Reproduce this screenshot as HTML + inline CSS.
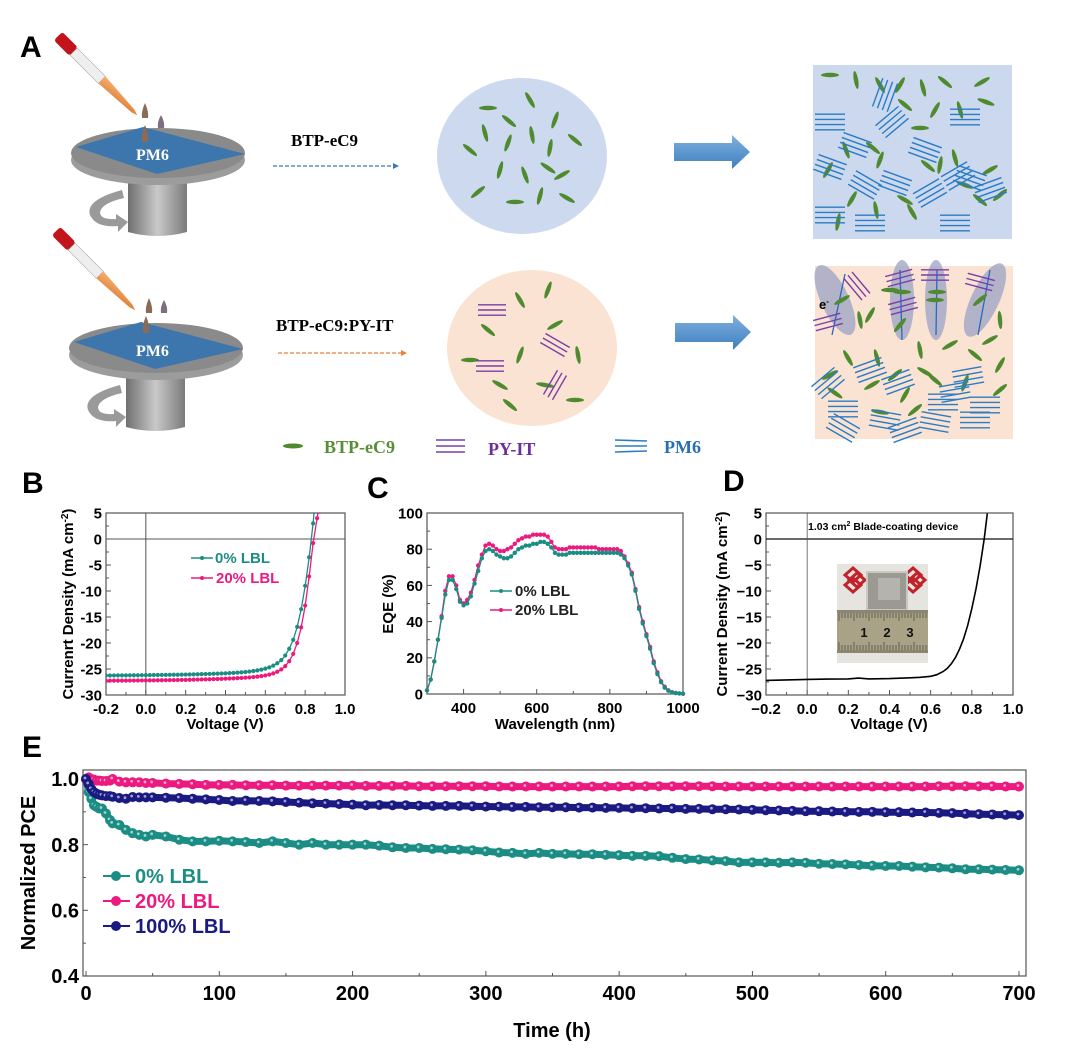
<!DOCTYPE html>
<html><head><meta charset="utf-8"><style>
html,body{margin:0;padding:0;background:#fff;}
svg{display:block;font-family:"Liberation Sans",Arial,sans-serif;}
.serif{font-family:"Liberation Serif","Times New Roman",serif;font-weight:bold;}
</style></head><body>
<svg id="fig" width="1080" height="1050" viewBox="0 0 1080 1050">
<defs>
<linearGradient id="bigArrow" x1="0" y1="0" x2="0" y2="1"><stop offset="0" stop-color="#7fb0de"/><stop offset="1" stop-color="#3e7fc0"/></linearGradient>
<linearGradient id="pillar" x1="0" y1="0" x2="1" y2="0"><stop offset="0" stop-color="#6f6f6f"/><stop offset="0.5" stop-color="#c9c9c9"/><stop offset="1" stop-color="#7a7a7a"/></linearGradient>
<linearGradient id="pip" x1="0" y1="0" x2="1" y2="1"><stop offset="0" stop-color="#f5b070"/><stop offset="1" stop-color="#d9782e"/></linearGradient>
</defs>

<!-- ===== Panel A schematic ===== -->
<g>
<text x="20" y="57" font-size="30" font-weight="bold">A</text>

<g id="coater1">
  <path d="M128 178 L187 178 L187 232 Q157 240 128 232 Z" fill="url(#pillar)"/>
  <path d="M122 190 Q85 200 90 215 Q96 228 118 226 L118 232 L128 222 L116 214 L116 219 Q100 220 100 212 Q102 203 124 198 Z" fill="#9a9a9a"/>
  <ellipse cx="158" cy="160" rx="87" ry="25" fill="#9c9c9c"/>
  <ellipse cx="158" cy="153" rx="87" ry="25" fill="#8a8a8a"/>
  <polygon points="76,147 143,127 245,154 157,174" fill="#3c76ad"/>
  <text x="136" y="160" class="serif" font-size="16" fill="#fff">PM6</text>
  <g transform="rotate(45 92 70)"><rect x="44" y="64" width="22" height="12" rx="3" fill="#c3141b"/><rect x="66" y="65" width="40" height="10" fill="#eee" stroke="#999" stroke-width="0.5"/><polygon points="106,65 150,68 156,70 150,72 106,75" fill="url(#pip)"/></g>
  <path d="M145 103 Q141 112 142 118 L148 118 Q149 112 145 103Z" fill="#8c6a58"/>
  <path d="M161 115 Q157 122 158 128 L164 128 Q165 122 161 115Z" fill="#7c6f80"/>
  <path d="M145 125 Q141 134 142 142 L148 142 Q149 134 145 125Z" fill="#8c6a58"/>
</g>
<g transform="translate(-2,195)">
  <path d="M128 178 L187 178 L187 232 Q157 240 128 232 Z" fill="url(#pillar)"/>
  <path d="M122 190 Q85 200 90 215 Q96 228 118 226 L118 232 L128 222 L116 214 L116 219 Q100 220 100 212 Q102 203 124 198 Z" fill="#9a9a9a"/>
  <ellipse cx="158" cy="160" rx="87" ry="25" fill="#9c9c9c"/>
  <ellipse cx="158" cy="153" rx="87" ry="25" fill="#8a8a8a"/>
  <polygon points="76,147 143,127 245,154 157,174" fill="#3c76ad"/>
  <text x="138" y="161" class="serif" font-size="16" fill="#fff">PM6</text>
  <g transform="rotate(45 92 70)"><rect x="44" y="64" width="22" height="12" rx="3" fill="#c3141b"/><rect x="66" y="65" width="40" height="10" fill="#eee" stroke="#999" stroke-width="0.5"/><polygon points="106,65 150,68 156,70 150,72 106,75" fill="url(#pip)"/></g>
  <path d="M151 103 Q147 112 148 118 L154 118 Q155 112 151 103Z" fill="#8c6a58"/>
  <path d="M166 105 Q162 112 163 118 L169 118 Q170 112 166 105Z" fill="#7c6f80"/>
  <path d="M148 121 Q144 130 145 138 L151 138 Q152 130 148 121Z" fill="#8c6a58"/>
</g>

<text x="291" y="146" class="serif" font-size="17">BTP-eC9</text>
<line x1="273" y1="166" x2="393" y2="166" stroke="#3a78c0" stroke-width="1.3" stroke-dasharray="4,2"/>
<polygon points="393,163 399,166 393,169" fill="#3a78c0"/>
<text x="276" y="331" class="serif" font-size="17">BTP-eC9:PY-IT</text>
<line x1="278" y1="353" x2="401" y2="353" stroke="#e8803a" stroke-width="1.3" stroke-dasharray="4,2"/>
<polygon points="401,350 407,353 401,356" fill="#e8803a"/>

<ellipse cx="522" cy="156" rx="85" ry="78" fill="#ccd9ef"/>
<ellipse cx="532" cy="348" rx="85" ry="78" fill="#fbe3d3"/>
<g id="rodsTop"></g><g id="rodsBot"></g>

<polygon points="674,143 732,143 732,135 750,152 732,169 732,161 674,161" fill="url(#bigArrow)"/>
<polygon points="675,323 733,323 733,315 751,332 733,350 733,342 675,342" fill="url(#bigArrow)"/>

<rect x="813" y="65" width="199" height="174" fill="#cbd8ee"/>
<rect x="815" y="266" width="198" height="173" fill="#fbe3d3"/>
<g id="morph"></g>

<g>
<ellipse cx="293" cy="446" rx="10" ry="2.5" fill="#4e8a2c"/>
<text x="324" y="453" class="serif" font-size="18" fill="#5a8e35">BTP-eC9</text>
<g stroke="#7a3fa8" stroke-width="1.6"><line x1="436" y1="440" x2="465" y2="440"/><line x1="436" y1="446" x2="465" y2="446"/><line x1="436" y1="452" x2="465" y2="452"/></g>
<text x="488" y="455" class="serif" font-size="18" fill="#6e2f9a">PY-IT</text>
<g stroke="#2a7cc4" stroke-width="1.6"><line x1="615" y1="440" x2="647" y2="441"/><line x1="615" y1="446" x2="647" y2="446"/><line x1="615" y1="452" x2="647" y2="451"/></g>
<text x="664" y="453" class="serif" font-size="18" fill="#2a6fb0">PM6</text>
</g>
</g>

<g id="charts"></g>
</svg>
<script>
// ---------- Chart data ----------
const voltB0 = [-0.2,-0.18,-0.16,-0.14,-0.12,-0.1,-0.08,-0.06,-0.04,-0.02,0,0.02,0.04,0.06,0.08,0.1,0.12,0.14,0.16,0.18,0.2,0.22,0.24,0.26,0.28,0.3,0.32,0.34,0.36,0.38,0.4,0.42,0.44,0.46,0.48,0.5,0.52,0.54,0.56,0.58,0.6,0.62,0.64,0.66,0.68,0.7,0.72,0.74,0.76,0.78,0.8,0.82,0.84,0.845];
const jscB0 = [-26.25,-26.25,-26.24,-26.23,-26.22,-26.22,-26.21,-26.2,-26.2,-26.19,-26.18,-26.17,-26.16,-26.15,-26.14,-26.13,-26.12,-26.11,-26.1,-26.08,-26.07,-26.05,-26.03,-26.01,-25.99,-25.97,-25.95,-25.92,-25.89,-25.86,-25.83,-25.79,-25.75,-25.7,-25.64,-25.57,-25.49,-25.39,-25.27,-25.12,-24.93,-24.68,-24.35,-23.9,-23.3,-22.4,-21.1,-19.4,-16.9,-13.5,-9.0,-3.5,3.0,5.2];
const voltB20 = [-0.2,-0.18,-0.16,-0.14,-0.12,-0.1,-0.08,-0.06,-0.04,-0.02,0,0.02,0.04,0.06,0.08,0.1,0.12,0.14,0.16,0.18,0.2,0.22,0.24,0.26,0.28,0.3,0.32,0.34,0.36,0.38,0.4,0.42,0.44,0.46,0.48,0.5,0.52,0.54,0.56,0.58,0.6,0.62,0.64,0.66,0.68,0.7,0.72,0.74,0.76,0.78,0.8,0.82,0.84,0.86,0.865];
const jscB20 = [-27.25,-27.25,-27.24,-27.24,-27.23,-27.23,-27.22,-27.22,-27.21,-27.2,-27.2,-27.19,-27.18,-27.17,-27.16,-27.15,-27.14,-27.13,-27.12,-27.1,-27.09,-27.07,-27.05,-27.03,-27.01,-26.99,-26.97,-26.95,-26.92,-26.89,-26.86,-26.83,-26.8,-26.76,-26.72,-26.67,-26.62,-26.55,-26.47,-26.37,-26.24,-26.07,-25.84,-25.52,-25.08,-24.45,-23.5,-22.1,-20.0,-17.0,-12.8,-7.2,-0.8,4.0,5.2];
const wlC = [300,310,320,330,340,350,360,370,380,390,400,410,420,430,440,450,460,470,480,490,500,510,520,530,540,550,560,570,580,590,600,610,620,630,640,650,660,670,680,690,700,710,720,730,740,750,760,770,780,790,800,810,820,830,840,850,860,870,880,890,900,910,920,930,940,950,960,970,980,990,1000];
const eqe20 = [2,8,18,30,43,57,65,65,60,52,50,52,56,63,71,77,82,83,82,80,79,79,80,81,83,85,86,87,87,88,88,88,88,87,84,81,80,80,80,81,81,81,81,81,81,81,81,80,80,80,80,80,80,79,76,72,67,58,48,40,33,26,18,12,7,4,2,1,0.6,0.3,0.2];
const eqe0 = [2,8,18,30,42,55,63,63,58,51,49,50,54,61,68,75,79,80,79,77,76,75,75,76,78,80,81,82,82,83,83,84,84,83,81,78,77,77,77,78,78,78,78,78,78,78,78,78,78,78,78,78,78,77,75,71,66,57,47,39,32,25,17,11,6.5,3.5,1.8,0.9,0.5,0.3,0.2];
const voltD = [-0.2,-0.1,0,0.1,0.2,0.25,0.3,0.4,0.5,0.55,0.6,0.63,0.66,0.68,0.7,0.72,0.74,0.76,0.78,0.8,0.82,0.84,0.86,0.875];
const jscD = [-27.2,-27.1,-27.0,-26.95,-26.9,-26.75,-26.9,-26.85,-26.7,-26.6,-26.4,-26.1,-25.5,-24.9,-24.0,-22.8,-21.2,-19.2,-16.6,-13.4,-9.6,-5.2,0.0,4.9];
const timeE = [0,2,4,6,8,10,12,15,18,20,25,30,35,40,45,50,60,70,80,90,100,110,120,130,140,150,160,170,180,190,200,210,220,230,240,250,260,270,280,290,300,310,320,330,340,350,360,370,380,390,400,410,420,430,440,450,460,470,480,490,500,510,520,530,540,550,560,570,580,590,600,610,620,630,640,650,660,670,680,690,700];
const pce0 = [1.0,0.96,0.94,0.92,0.915,0.91,0.91,0.895,0.875,0.865,0.86,0.845,0.835,0.83,0.825,0.83,0.825,0.815,0.81,0.81,0.812,0.81,0.808,0.805,0.81,0.805,0.8,0.805,0.8,0.8,0.8,0.8,0.797,0.792,0.79,0.79,0.787,0.786,0.785,0.783,0.78,0.776,0.775,0.772,0.775,0.772,0.772,0.771,0.771,0.769,0.768,0.766,0.766,0.765,0.76,0.756,0.755,0.752,0.75,0.746,0.746,0.746,0.745,0.746,0.745,0.742,0.741,0.74,0.738,0.736,0.735,0.735,0.733,0.731,0.73,0.728,0.725,0.725,0.724,0.723,0.722];
const pce20 = [1.0,1.005,1.0,0.998,0.995,0.995,0.994,0.994,0.995,1.0,0.992,0.99,0.99,0.99,0.988,0.988,0.986,0.985,0.984,0.982,0.982,0.982,0.981,0.981,0.981,0.98,0.98,0.98,0.98,0.98,0.98,0.979,0.979,0.979,0.979,0.978,0.978,0.978,0.978,0.978,0.978,0.977,0.977,0.977,0.977,0.977,0.977,0.977,0.977,0.977,0.977,0.978,0.978,0.978,0.978,0.978,0.978,0.978,0.977,0.977,0.977,0.977,0.977,0.977,0.977,0.977,0.977,0.977,0.977,0.977,0.977,0.977,0.977,0.977,0.978,0.978,0.978,0.978,0.978,0.977,0.977];
const pce100 = [1.0,0.985,0.97,0.96,0.955,0.952,0.95,0.948,0.948,0.946,0.942,0.94,0.945,0.944,0.944,0.944,0.943,0.942,0.94,0.938,0.936,0.933,0.934,0.933,0.932,0.93,0.928,0.926,0.925,0.924,0.922,0.92,0.921,0.92,0.92,0.919,0.918,0.918,0.918,0.917,0.916,0.916,0.915,0.915,0.914,0.914,0.914,0.913,0.913,0.912,0.912,0.911,0.911,0.91,0.91,0.909,0.909,0.908,0.908,0.907,0.906,0.905,0.904,0.903,0.902,0.902,0.901,0.9,0.9,0.9,0.899,0.899,0.898,0.898,0.897,0.896,0.894,0.893,0.892,0.891,0.89];
const ticksB_x = [-0.2,0.0,0.2,0.4,0.6,0.8,1.0];
const ticksB_y = [5,0,-5,-10,-15,-20,-25,-30];
const ticksC_x = [400,600,800,1000];
const ticksC_y = [0,20,40,60,80,100];
const ticksE_x = [0,100,200,300,400,500,600,700];
const ticksE_y = [0.4,0.6,0.8,1.0];

// ---------- helpers ----------
const NS='http://www.w3.org/2000/svg';
const root=document.getElementById('charts');
function mk(tag, parent){const e=document.createElementNS(NS,tag);(parent||root).appendChild(e);return e;}
function set(e,o){for(const k in o)e.setAttribute(k,o[k]);return e;}
function lin(d0,d1,r0,r1){return v=>r0+(v-d0)/(d1-d0)*(r1-r0);}
function txt(parent,x,y,s,size,anchor,extra){const t=mk('text',parent);set(t,{x:x,y:y,'font-size':size,'font-weight':'bold','text-anchor':anchor||'start'});if(extra)set(t,extra);t.textContent=s;return t;}

function frame(g,x0,y0,x1,y1,xs,ys,xt,yt,xfmt,yfmt,fs,minorX,minorY){
  const r=mk('rect',g);set(r,{x:x0,y:y0,width:x1-x0,height:y1-y0,fill:'none',stroke:'#555','stroke-width':1.2});
  
  
  const ax=mk('g',g);
  
  
  xt.forEach(v=>{const l=mk('line',ax);set(l,{x1:xs(v),x2:xs(v),y1:y1,y2:y1-5,stroke:'#555','stroke-width':1});
    const t=txt(ax,xs(v),y1+fs+4,xfmt(v),fs,'middle');});
  minorX.forEach(v=>{const l=mk('line',ax);set(l,{x1:xs(v),x2:xs(v),y1:y1,y2:y1-3,stroke:'#555','stroke-width':1});});
  const ay=mk('g',g);
  
  
  yt.forEach(v=>{const l=mk('line',ay);set(l,{x1:x0,x2:x0+5,y1:ys(v),y2:ys(v),stroke:'#555','stroke-width':1});
    const t=txt(ay,x0-4,ys(v)+fs*0.36,yfmt(v),fs,'end');});
  minorY.forEach(v=>{const l=mk('line',ay);set(l,{x1:x0,x2:x0+3,y1:ys(v),y2:ys(v),stroke:'#555','stroke-width':1});});
}
function series(g,xsArr,ysArr,xs,ys,color,name,mr,lw){
  const s=mk('g',g);
  
  
  const p=mk('path',s);
  p.setAttribute('d',xsArr.map((x,i)=>(i?'L':'M')+xs(x).toFixed(1)+' '+ys(ysArr[i]).toFixed(1)).join(''));
  set(p,{fill:'none',stroke:color,'stroke-width':lw});
  if(mr>0) xsArr.forEach((x,i)=>{const c=mk('circle',s);set(c,{cx:xs(x),cy:ys(ysArr[i]),r:mr,fill:color,stroke:color,'stroke-width':0.6});});
  return s;
}
const fmt1=v=>v.toFixed(1);
const fmtI=v=>String(v);
const TEAL='#1b8d84', PINK='#ec1a7f', NAVY='#1a1a82';

// ---------- Panel B ----------
const gB=mk('g');


txt(gB,22,493,'B',30);
const xB=lin(-0.2,1.0,106,345), yB=lin(-30,5,695,513);
frame(gB,106,513,345,695,xB,yB,ticksB_x,ticksB_y,fmt1,fmtI,15,[-0.1,0.1,0.3,0.5,0.7,0.9],[2.5,-2.5,-7.5,-12.5,-17.5,-22.5,-27.5]);
set(mk('line',gB),{x1:106,x2:345,y1:yB(0),y2:yB(0),stroke:'#555','stroke-width':1});
set(mk('line',gB),{x1:xB(0),x2:xB(0),y1:513,y2:695,stroke:'#555','stroke-width':1});
const clipB=mk('clipPath',gB);clipB.id='clipB';set(mk('rect',clipB),{x:106,y:513,width:239,height:182});
const sB=mk('g',gB);sB.setAttribute('clip-path','url(#clipB)');
series(sB,voltB0,jscB0,xB,yB,TEAL,'series-0pct-lbl',1.8,1.3);
series(sB,voltB20,jscB20,xB,yB,PINK,'series-20pct-lbl',1.8,1.3);
txt(gB,73,604,'Currenrt Density (mA cm',15,'middle',{transform:'rotate(-90 73 604)'}).innerHTML='Currenrt Density (mA cm<tspan dy="-5" font-size="10">-2</tspan><tspan dy="5">)</tspan>';
txt(gB,225,729,'Voltage (V)',15,'middle');
const lgB=mk('g',gB);


set(mk('line',lgB),{x1:191,x2:213,y1:558,y2:558,stroke:TEAL,'stroke-width':1.5});set(mk('circle',lgB),{cx:202,cy:558,r:2,fill:TEAL});
txt(lgB,215,563,'0% LBL',15,'start',{fill:TEAL});
set(mk('line',lgB),{x1:191,x2:213,y1:578,y2:578,stroke:PINK,'stroke-width':1.5});set(mk('circle',lgB),{cx:202,cy:578,r:2,fill:PINK});
txt(lgB,216,583,'20% LBL',15,'start',{fill:PINK});

// ---------- Panel C ----------
const gC=mk('g');


txt(gC,367,498,'C',30);
const xC=lin(300,1000,427,683), yC=lin(0,100,694,513);
frame(gC,427,513,683,694,xC,yC,ticksC_x,ticksC_y,fmtI,fmtI,15,[500,700,900],[10,30,50,70,90]);
series(gC,wlC,eqe20,xC,yC,PINK,'series-20pct-lbl',1.9,1.3);
series(gC,wlC,eqe0,xC,yC,TEAL,'series-0pct-lbl',1.9,1.3);
txt(gC,393,604,'EQE (%)',15,'middle',{transform:'rotate(-90 393 604)'});
txt(gC,555,729,'Wavelength (nm)',15,'middle');
const lgC=mk('g',gC);


set(mk('line',lgC),{x1:490,x2:512,y1:591,y2:591,stroke:TEAL,'stroke-width':1.5});set(mk('circle',lgC),{cx:501,cy:591,r:2,fill:TEAL});
txt(lgC,515,596,'0% LBL',15,'start',{fill:'#222'});
set(mk('line',lgC),{x1:490,x2:512,y1:610,y2:610,stroke:PINK,'stroke-width':1.5});set(mk('circle',lgC),{cx:501,cy:610,r:2,fill:PINK});
txt(lgC,515,615,'20% LBL',15,'start',{fill:'#222'});

// ---------- Panel D ----------
const gD=mk('g');


txt(gD,723,491,'D',30);
const xD=lin(-0.2,1.0,766,1013), yD=lin(-30,5,695,513);
frame(gD,766,513,1013,695,xD,yD,ticksB_x,ticksB_y,v=>(v<0?'\u2212':'')+Math.abs(v).toFixed(1),v=>(v<0?'\u2212':'')+Math.abs(v),15,[-0.1,0.1,0.3,0.5,0.7,0.9],[2.5,-2.5,-7.5,-12.5,-17.5,-22.5,-27.5]);
set(mk('line',gD),{x1:766,x2:1013,y1:yD(0),y2:yD(0),stroke:'#111','stroke-width':1.2});
set(mk('line',gD),{x1:xD(0),x2:xD(0),y1:513,y2:695,stroke:'#555','stroke-width':0.8});
// inset photo
const ph=mk('g',gD);


set(mk('rect',ph),{x:837,y:564,width:91,height:99,fill:'#e6e4df'});
set(mk('path',ph),{d:'M845 575 l8 -7 l8 7 l-8 7z M849 580 l8 -7 l8 7 l-8 7z M845 585 l8 -7 l8 7 l-8 7z',fill:'none',stroke:'#c0232b','stroke-width':3});
set(mk('path',ph),{d:'M905 575 l8 -7 l8 7 l-8 7z M909 580 l8 -7 l8 7 l-8 7z M905 585 l8 -7 l8 7 l-8 7z',fill:'none',stroke:'#c0232b','stroke-width':3});
set(mk('rect',ph),{x:867,y:572,width:40,height:38,fill:'#9b9a92',stroke:'#c8c7c0','stroke-width':2});
set(mk('rect',ph),{x:878,y:578,width:22,height:22,fill:'#b4b3ad'});
set(mk('rect',ph),{x:837,y:610,width:91,height:43,fill:'#8c8670'});
set(mk('rect',ph),{x:837,y:613,width:91,height:37,fill:'#a9a287'});
for(let i=0;i<30;i++){set(mk('line',ph),{x1:839+i*3,x2:839+i*3,y1:613,y2:i%5?618:621,stroke:'#333','stroke-width':0.6});set(mk('line',ph),{x1:839+i*3,x2:839+i*3,y1:650,y2:i%5?645:642,stroke:'#333','stroke-width':0.6});}
txt(ph,864,637,'1',13,'middle',{fill:'#111'});txt(ph,887,637,'2',13,'middle',{fill:'#111'});txt(ph,910,637,'3',13,'middle',{fill:'#111'});
series(gD,voltD,jscD,xD,yD,'#000','series-blade-coating',0,1.6);
const tD=txt(gD,808,530,'',10.5,'start');tD.innerHTML='1.03 cm<tspan dy="-4" font-size="7">2</tspan><tspan dy="4"> Blade-coating device</tspan>';
txt(gD,727,604,'',15,'middle',{transform:'rotate(-90 727 604)'}).innerHTML='Current Density (mA cm<tspan dy="-5" font-size="10">-2</tspan><tspan dy="5">)</tspan>';
txt(gD,889,729,'Voltage (V)',15,'middle');

// ---------- Panel E ----------
const gE=mk('g');


txt(gE,22,757,'E',30);
const xE=lin(0,700,86,1019), yE=lin(0.4,1.0,976,779);
frame(gE,83,770,1026,976,xE,yE,ticksE_x,ticksE_y,fmtI,fmt1,20,[50,150,250,350,450,550,650],[0.5,0.7,0.9]);
function seriesE(arr,color,name){
  const s=mk('g',gE);
  
  
  const p=mk('path',s);
  p.setAttribute('d',timeE.map((x,i)=>(i?'L':'M')+xE(x).toFixed(1)+' '+yE(arr[i]).toFixed(1)).join(''));
  set(p,{fill:'none',stroke:color,'stroke-width':7,'stroke-linejoin':'round'});
  timeE.forEach((x,i)=>{const c=mk('circle',s);set(c,{cx:xE(x),cy:yE(arr[i]),r:4.5,fill:color,stroke:color,'stroke-width':1});
    const h=mk('circle',s);set(h,{cx:xE(x)-1,cy:yE(arr[i])-1,r:1.4,fill:'#fff','fill-opacity':0.6});});
}
seriesE(pce0,TEAL,'series-0pct-lbl');
seriesE(pce20,PINK,'series-20pct-lbl');
seriesE(pce100,NAVY,'series-100pct-lbl');
txt(gE,35,873,'Normalized PCE',20,'middle',{transform:'rotate(-90 35 873)'});
txt(gE,552,1037,'Time (h)',20,'middle');
const lgE=mk('g',gE);


[[TEAL,'0% LBL',876],[PINK,'20% LBL',901],[NAVY,'100% LBL',926]].forEach(d=>{
  set(mk('line',lgE),{x1:103,x2:130,y1:d[2],y2:d[2],stroke:d[0],'stroke-width':2});
  set(mk('circle',lgE),{cx:116,cy:d[2],r:5,fill:d[0]});
  txt(lgE,135,d[2]+7,d[1],20,'start',{fill:d[0]});
});

// ---------- schematic rods (decoration) ----------
function rod(parent,x,y,a,len){const e=mk('ellipse',parent);set(e,{cx:x,cy:y,rx:len||9,ry:2.2,fill:'#4f8a2e',transform:'rotate('+a+' '+x+' '+y+')'});}
function stack(parent,x,y,a,color,n,len){const g=mk('g',parent);g.setAttribute('transform','rotate('+a+' '+x+' '+y+')');for(let i=0;i<n;i++)set(mk('line',g),{x1:x-len/2,x2:x+len/2,y1:y-(n-1)*2.6+i*5.2,y2:y-(n-1)*2.6+i*5.2,stroke:color,'stroke-width':1.4});}
const rt=document.getElementById('rodsTop'), rbt=document.getElementById('rodsBot'), mo=document.getElementById('morph');
[[488,108,0],[509,121,40],[530,100,60],[485,133,75],[508,143,-70],[532,135,80],[550,148,-80],[470,150,40],[500,170,-75],[525,175,70],[548,168,35],[478,192,-40],[515,202,0],[540,196,-75],[555,120,-70],[575,140,40],[562,175,-30],[567,198,30]].forEach(r=>rod(rt,r[0],r[1],r[2]));
[[548,290,-70],[520,300,60],[488,330,40],[520,355,-70],[470,360,0],[555,325,-30],[545,385,10],[578,355,80],[500,385,30],[575,400,0],[510,405,40]].forEach(r=>rod(rbt,r[0],r[1],r[2]));
[[492,310,0],[490,366,0],[555,345,30],[555,385,-60]].forEach(s=>stack(rbt,s[0],s[1],s[2],'#7a3fa8',3,28));
[[830,75,0],[856,80,80],[880,85,60],[900,85,-60],[923,88,75],[945,82,40],[982,82,-30],[986,102,20],[905,105,40],[935,110,-60],[960,110,75],[828,170,-60],[846,150,70],[873,148,40],[880,160,-70],[920,128,0],[928,166,40],[955,158,75],[990,170,-30],[852,199,-60],[905,200,30],[940,165,-80],[965,185,20],[980,200,40],[1000,195,-40],[838,222,-80],[876,210,80],[912,212,60]].forEach(r=>rod(mo,r[0],r[1],r[2]));
[[830,122,0],[885,95,-70],[892,122,-40],[855,145,20],[925,150,20],[830,167,20],[865,185,30],[895,183,20],[930,193,-30],[958,176,-30],[970,178,20],[990,190,-20],[830,215,0],[870,223,0],[955,223,0],[965,117,0]].forEach(s=>stack(mo,s[0],s[1],s[2],'#2a7cc4',4,30));
[[835,300,-25,14,38],[902,300,0,12,40],[936,300,0,11,40],[985,300,25,14,40]].forEach(o=>{set(mk('ellipse',mo),{cx:o[0],cy:o[1],rx:o[3],ry:o[4],fill:'#9aa3c4','fill-opacity':0.75,transform:'rotate('+o[2]+' '+o[0]+' '+o[1]+')'});});
[[838,320,'M832 335 L845 274'],[902,300,'M902 340 L900 270'],[937,300,'M936 335 L937 270'],[985,300,'M978 335 L990 270']].forEach(a=>{set(mk('path',mo),{d:a[2],stroke:'#2a68c0','stroke-width':1.3,fill:'none'});});
[[857,286,50],[900,278,-15],[935,275,0],[980,282,15],[903,306,-15],[828,322,-15]].forEach(s=>stack(mo,s[0],s[1],s[2],'#7a3fa8',3,28));
[[842,300,-30],[890,290,0],[902,292,0],[937,292,0],[935,300,0],[980,300,-40],[860,320,80],[870,315,-60],[900,325,-50],[1000,320,85],[990,340,-30]].forEach(r=>rod(mo,r[0],r[1],r[2]));
[[830,375,-30],[848,358,60],[877,358,75],[895,375,-40],[920,350,80],[950,345,-30],[975,355,40],[1000,365,-60],[835,393,35],[872,385,-30],[905,395,-60],[935,380,40],[965,383,-70],[1000,390,-40],[880,412,10],[915,410,-40],[925,372,30]].forEach(r=>rod(mo,r[0],r[1],r[2]));
[[828,383,-40],[870,370,-20],[898,382,-20],[968,377,-10],[955,392,-10],[843,409,0],[885,420,10],[935,422,10],[975,420,0],[843,428,30],[905,430,-20],[943,402,0],[985,405,0]].forEach(s=>stack(mo,s[0],s[1],s[2],'#2a7cc4',4,30));
txt(mo,819,309,'e',13,'start',{fill:'#000'}).innerHTML='e<tspan dy="-5" font-size="8">-</tspan>';
</script>
</body></html>
